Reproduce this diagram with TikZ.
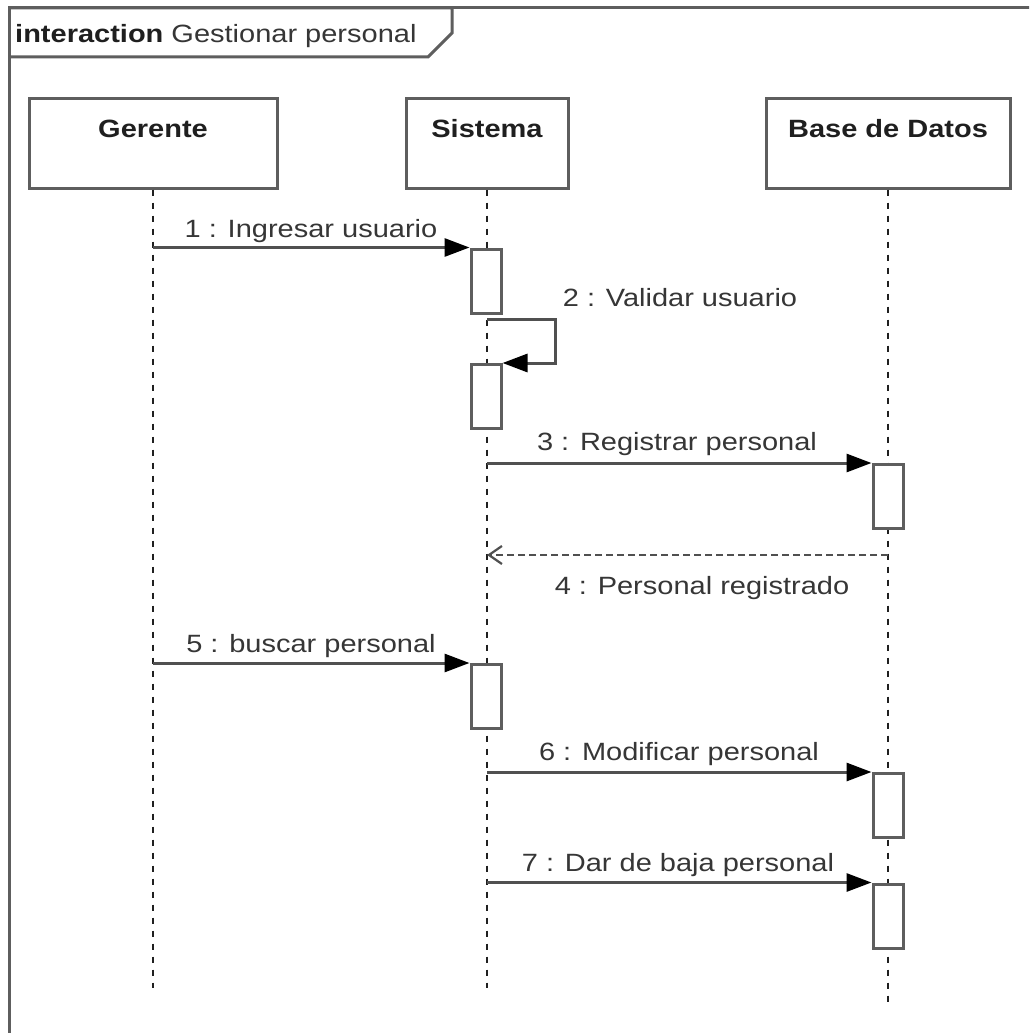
\documentclass[tikz,border=0pt]{standalone}
\usepackage{fontspec}
\setmainfont{Liberation Sans}[FakeStretch=1.16]
\usetikzlibrary{arrows.meta}
\definecolor{boxline}{HTML}{5E5E5E}
\definecolor{msgline}{HTML}{505050}
\definecolor{txt}{HTML}{363636}
\definecolor{lifeclr}{HTML}{202020}
\tikzset{
  txtfont/.style={font=\fontsize{25}{30}\selectfont},
  headbox/.style={draw=boxline, line width=3pt, fill=white, minimum height=90pt, inner sep=0pt},
  headtxt/.style={font=\fontsize{25}{30}\selectfont\bfseries, text=black!88, anchor=base, inner sep=0pt},
  actbox/.style={draw=boxline, line width=3pt, fill=white, minimum width=30pt, minimum height=64pt, inner sep=0pt},
  lifeline/.style={draw=lifeclr, line width=2.2pt, dash pattern=on 6pt off 7pt},
  msg/.style={draw=msgline, line width=3pt, -{Triangle[length=25pt, width=18pt, color=black, fill=black]}},
  retmsg/.style={draw=msgline, line width=2.8pt, dash pattern=on 7pt off 4pt, -{Straight Barb[length=13pt, width=18pt, line width=2.2pt]}},
  msgtxt/.style={txtfont, text=txt, anchor=base, inner sep=0pt},
  framel/.style={draw=boxline, line width=3pt}
}
\begin{document}
\begin{tikzpicture}[x=1pt, y=-1pt]
\useasboundingbox (0,0) rectangle (1029,1033);
\clip (0,0) rectangle (1029,1033);
\fill[white] (0,0) rectangle (1029,1033);

% outer frame and its heading tab
\draw[framel] (9,1040) -- (9,8) -- (1040,8);
\draw[framel, line join=miter] (9,8) -- (452,8) -- (452,33) -- (428,57) -- (9,57);
\node[txtfont, anchor=base west, inner sep=0pt, text=black!88] (title) at (15,43)
  {\textbf{interaction} \textcolor{txt}{Gestionar personal}};

% participants
\node[headbox, minimum width=248pt] (ger) at (153,143) {};
\node[headbox, minimum width=162pt] (sis) at (487,143) {};
\node[headbox, minimum width=244pt] (bd)  at (888,143) {};
\node[headtxt] (gerT) at (153,137) {Gerente};
\node[headtxt] (sisT) at (487,137) {Sistema};
\node[headtxt] (bdT)  at (888,137) {Base de Datos};

% lifelines
\coordinate (gerEnd) at (153,988);
\coordinate (sisEnd) at (487,988);
\coordinate (bdEnd)  at (888,1005);
\draw[lifeline] (ger.south) -- (gerEnd);
\draw[lifeline] (sis.south) -- (sisEnd);
\draw[lifeline] (bd.south) -- (bdEnd);

% activations
\node[actbox] (a1) at (486,281) {};
\node[actbox] (a2) at (486,396.5) {};
\node[actbox] (a3) at (486,696.5) {};
\node[actbox] (b1) at (888,496.5) {};
\node[actbox] (b2) at (888,805.5) {};
\node[actbox] (b3) at (888,916) {};

% messages
\draw[msg] (ger |- a1.north west) -- (a1.north west);
\node[msgtxt] (m1) at (311,237) {1 : Ingresar usuario};

\coordinate (selfA) at (487,319);
\coordinate (selfB) at (555,319);
\draw[msg] (selfA) -- (selfB) |- (a2.north east);
\node[msgtxt] (m2) at (680,306) {2 : Validar usuario};

\draw[msg] (sis |- b1.north west) -- (b1.north west);
\node[msgtxt] (m3) at (677,450) {3 : Registrar personal};

\coordinate (r4s) at (888,555);
\coordinate (r4e) at (487,555);
\draw[retmsg] (r4s) -- (r4e);
\node[msgtxt] (m4) at (702,594) {4 : Personal registrado};

\draw[msg] (ger |- a3.north west) -- (a3.north west);
\node[msgtxt] (m5) at (311,652) {5 : buscar personal};

\draw[msg] (sis |- b2.north west) -- (b2.north west);
\node[msgtxt] (m6) at (679,760) {6 : Modificar personal};

\draw[msg] (sis |- b3.north west) -- (b3.north west);
\node[msgtxt] (m7) at (678,871) {7 : Dar de baja personal};
\end{tikzpicture}
\end{document}
